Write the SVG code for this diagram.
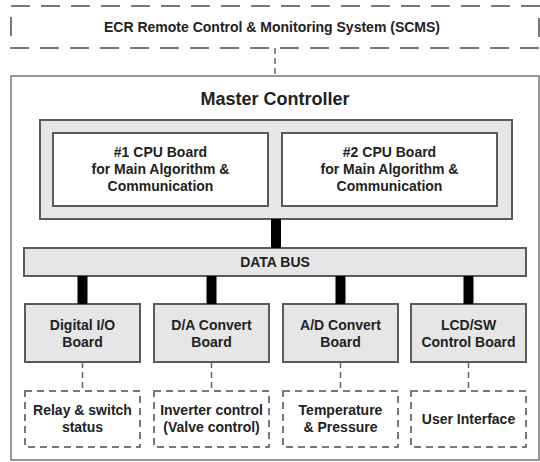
<svg xmlns="http://www.w3.org/2000/svg" width="540" height="462" viewBox="0 0 540 462">
<style>
text{font-family:"Liberation Sans",Arial,sans-serif;font-weight:bold;fill:#222;text-anchor:middle;font-size:14px}
.dash{fill:none;stroke:#777;stroke-width:2;stroke-dasharray:19 11}
.sdash{fill:#fff;stroke:#777;stroke-width:2;stroke-dasharray:7 5}
.gray{fill:#e6e6e6;stroke:#5a5a5a;stroke-width:2}
.white{fill:#fff;stroke:#5a5a5a;stroke-width:2}
.bus{fill:#000}
.link{stroke:#666;stroke-width:1.5;stroke-dasharray:6 4;fill:none}
</style>
<rect width="540" height="462" fill="#fff"/>
<g id="scms">
<rect x="11" y="6" width="528" height="42" class="dash" style="fill:#fff"/>
<text x="272" y="32">ECR Remote Control &amp; Monitoring System (SCMS)</text>
</g>
<g id="master">
<rect x="11" y="76" width="528" height="384" fill="#fff" stroke="#777" stroke-width="1.5"/>
<text x="275" y="105" style="font-size:18px">Master Controller</text>
</g>
<g id="cpu-group">
<rect x="40" y="120" width="472" height="99" class="gray"/>
</g>
<g id="cpu1">
<rect x="53" y="133" width="215" height="73" class="white"/>
<text x="160.5" y="157">#1 CPU Board</text>
<text x="160.5" y="174">for Main Algorithm &amp;</text>
<text x="160.5" y="191">Communication</text>
</g>
<g id="cpu2">
<rect x="282" y="133" width="215" height="73" class="white"/>
<text x="389.5" y="157">#2 CPU Board</text>
<text x="389.5" y="174">for Main Algorithm &amp;</text>
<text x="389.5" y="191">Communication</text>
</g>
<g id="databus">
<rect x="24" y="248" width="502" height="28" class="gray"/>
<text x="275" y="267">DATA BUS</text>
</g>
<g id="dio">
<rect x="25" y="304" width="115" height="58" class="gray"/>
<text x="82.5" y="330">Digital I/O</text>
<text x="82.5" y="347">Board</text>
</g>
<g id="da">
<rect x="154" y="304" width="115" height="58" class="gray"/>
<text x="211.5" y="330">D/A Convert</text>
<text x="211.5" y="347">Board</text>
</g>
<g id="ad">
<rect x="283" y="304" width="115" height="58" class="gray"/>
<text x="340.5" y="330">A/D Convert</text>
<text x="340.5" y="347">Board</text>
</g>
<g id="lcd">
<rect x="411" y="304" width="115" height="58" class="gray"/>
<text x="468.5" y="330">LCD/SW</text>
<text x="468.5" y="347">Control Board</text>
</g>
<g id="relay">
<rect x="25" y="391" width="115" height="56" class="sdash"/>
<text x="82.5" y="415">Relay &amp; switch</text>
<text x="82.5" y="432">status</text>
</g>
<g id="inverter">
<rect x="154" y="391" width="115" height="56" class="sdash"/>
<text x="211.5" y="415">Inverter control</text>
<text x="211.5" y="432">(Valve control)</text>
</g>
<g id="temp">
<rect x="283" y="391" width="115" height="56" class="sdash"/>
<text x="340.5" y="415">Temperature</text>
<text x="340.5" y="432">&amp; Pressure</text>
</g>
<g id="ui">
<rect x="411" y="391" width="115" height="56" class="sdash"/>
<text x="468.5" y="424">User Interface</text>
</g>
<g id="connectors">
<line x1="275" y1="48" x2="275" y2="76" class="link"/>
<rect x="271" y="219" width="10" height="29" class="bus"/>
<rect x="77.5" y="276" width="10" height="28" class="bus"/>
<rect x="206.5" y="276" width="10" height="28" class="bus"/>
<rect x="335.5" y="276" width="10" height="28" class="bus"/>
<rect x="463.5" y="276" width="10" height="28" class="bus"/>
<line x1="82.5" y1="362" x2="82.5" y2="391" class="link"/>
<line x1="211.5" y1="362" x2="211.5" y2="391" class="link"/>
<line x1="340.5" y1="362" x2="340.5" y2="391" class="link"/>
<line x1="468.5" y1="362" x2="468.5" y2="391" class="link"/>
</g>
</svg>
